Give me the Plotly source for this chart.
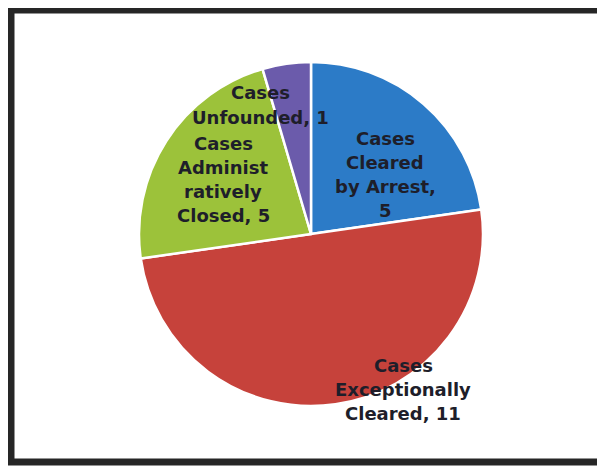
import plotly.graph_objects as go

categories = ["Cases Cleared by Arrest", "Cases Exceptionally Cleared",
              "Cases Administratively Closed", "Cases Unfounded"]
values = [5, 11, 5, 1]
colors = ["#2c7bc7", "#c6423b", "#9cc23a", "#6b5bab"]
label_lines = [
    ["Cases", "Cleared", "by Arrest,", "5"],
    ["Cases", "Exceptionally", "Cleared, 11"],
    ["Cases", "Administ", "ratively", "Closed, 5"],
    ["Cases", "Unfounded, 1"],
]

# page offset of the plot inside the browser (body margin)
OX, OY = 8, 8
W, H = 605 - OX, 466 - OY

# label centres in page pixels (x, y from top)
label_pos = [(385, 174), (403, 389), (223, 179), (260, 105)]
cx, cy, r = 311, 234, 172


def px_x(x):
    return (x - OX) / W


def px_y(y):
    return 1 - (y - OY) / H


fig = go.Figure(go.Pie(
    labels=categories,
    values=values,
    sort=False,
    direction="clockwise",
    rotation=0,
    marker=dict(colors=colors, line=dict(color="white", width=2.5)),
    textinfo="none",
    hoverinfo="label+value",
    domain=dict(x=[px_x(cx - r), px_x(cx + r)], y=[px_y(cy + r), px_y(cy - r)]),
    showlegend=False,
))

annotations = []
spacing = 24
for lines, (px, py), v in zip(label_lines, label_pos, values):
    n = len(lines)
    for i, line in enumerate(lines):
        ly = py + (i - (n - 1) / 2) * spacing
        annotations.append(dict(
            x=px_x(px), y=px_y(ly), xref="paper", yref="paper",
            text=line, showarrow=False, xanchor="center", yanchor="middle",
            font=dict(family="DejaVu Sans", size=18, color="#1e1e2a", weight="bold"),
        ))

fig.update_layout(
    width=W, height=H,
    margin=dict(l=0, r=0, t=0, b=0),
    paper_bgcolor="white",
    plot_bgcolor="white",
    annotations=annotations,
    shapes=[dict(type="rect", xref="paper", yref="paper",
                 x0=px_x(11), x1=px_x(607), y0=px_y(462), y1=px_y(10),
                 line=dict(color="#262626", width=7), fillcolor="rgba(0,0,0,0)")],
)

fig.write_html("out.html")
